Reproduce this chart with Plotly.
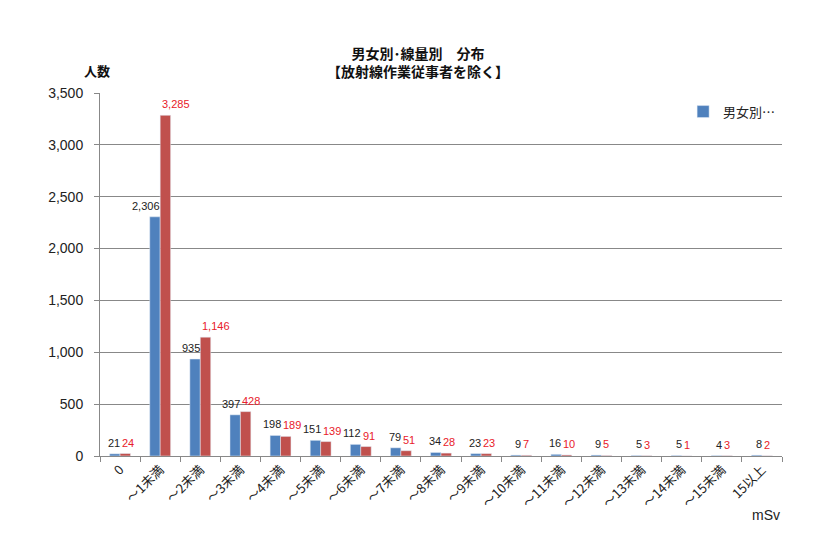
import plotly.graph_objects as go

categories = ["0", "～1未満", "～2未満", "～3未満", "～4未満", "～5未満", "～6未満", "～7未満",
              "～8未満", "～9未満", "～10未満", "～11未満", "～12未満", "～13未満", "～14未満",
              "～15未満", "15以上"]
male = [21, 2306, 935, 397, 198, 151, 112, 79, 34, 23, 9, 16, 9, 5, 5, 4, 8]
female = [24, 3285, 1146, 428, 189, 139, 91, 51, 28, 23, 7, 10, 5, 3, 1, 3, 2]
yticks = [0, 500, 1000, 1500, 2000, 2500, 3000, 3500]

FONT = "Noto Sans CJK JP"
NUMFONT = "Liberation Sans"

fig = go.Figure()
fig.add_trace(go.Bar(
    x=categories, y=male, name="男女別…",
    marker=dict(color="#4F81BD"),
))
fig.add_trace(go.Bar(
    x=categories, y=female, name="女",
    marker=dict(color="#C0504D"), showlegend=False,
))

annotations = []
for c, v in zip(categories, male):
    annotations.append(dict(
        x=c, y=v, xref="x", yref="y", text=f"{v:,}", showarrow=False,
        xanchor="right", yanchor="bottom", xshift=1, yshift=4, borderpad=0,
        font=dict(size=11, family=NUMFONT, color="#222222")))
for c, v in zip(categories, female):
    annotations.append(dict(
        x=c, y=v, xref="x", yref="y", text=f"{v:,}", showarrow=False,
        xanchor="left", yanchor="bottom", xshift=1, yshift=4, borderpad=0,
        font=dict(size=11, family=NUMFONT, color="#E8202A")))

annotations += [
    dict(text="<b>人数</b>", xref="paper", yref="paper", x=-0.004, y=1.03,
         xanchor="center", yanchor="bottom", showarrow=False,
         font=dict(size=13, family=FONT, color="#111111")),
    dict(text="mSv", xref="paper", yref="paper", x=1.0, y=-0.135,
         xanchor="right", yanchor="top", showarrow=False,
         font=dict(size=14, family=NUMFONT, color="#222222")),
]

fig.update_layout(
    width=836, height=535,
    margin=dict(l=100, r=54, t=93, b=79),
    paper_bgcolor="white", plot_bgcolor="white",
    font=dict(family=FONT, color="#222222"),
    barmode="group", bargap=0.48, bargroupgap=0,
    title=dict(text="<b>男女別･線量別　分布</b><br><b>【放射線作業従事者を除く】</b>",
               x=0.5, xanchor="center", y=0.89, yanchor="middle",
               font=dict(size=14, family=FONT, color="#111111")),
    legend=dict(x=0.855, y=0.99, xanchor="left", yanchor="top", itemwidth=30,
                bgcolor="rgba(0,0,0,0)", font=dict(size=13, family=FONT)),
    xaxis=dict(
        showline=True, linecolor="#888888", linewidth=1,
        ticks="outside", tickson="boundaries", ticklen=5, tickcolor="#888888",
        tickangle=-45, tickfont=dict(size=13, family=FONT, color="#222222"),
        showgrid=False,
    ),
    yaxis=dict(
        range=[0, 3500], tickvals=yticks, tickformat=",",
        showline=True, linecolor="#888888", linewidth=1,
        ticks="outside", ticklen=5, tickcolor="#888888",
        showgrid=True, gridcolor="#888888", gridwidth=1,
        tickfont=dict(size=14, family=NUMFONT, color="#222222"),
        ticklabelstandoff=8,
        zeroline=False,
    ),
    annotations=annotations,
)

fig.write_html("out.html")
